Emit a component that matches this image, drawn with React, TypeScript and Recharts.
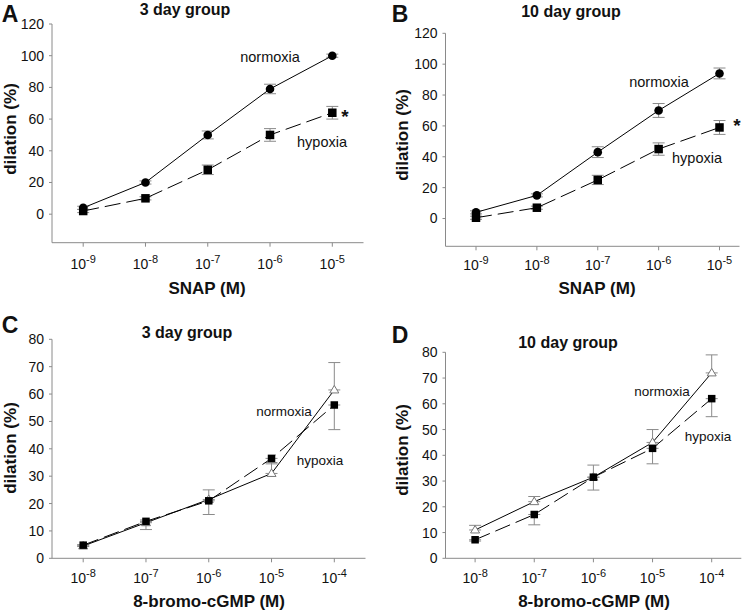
import { ErrorBar, Line, LineChart, XAxis, YAxis } from 'recharts';

const FONT = '"Liberation Sans", Arial, Helvetica, sans-serif';
const AXIS = '#8a8a8a';
const ERR = '#8a8a8a';

// dose exponents (10^x M)
const snapExponents = ['-9', '-8', '-7', '-6', '-5'];
const cgmpExponents = ['-8', '-7', '-6', '-5', '-4'];

const snapTicks = [0, 20, 40, 60, 80, 100, 120];
const cgmpTicks = [0, 10, 20, 30, 40, 50, 60, 70, 80];

// A: SNAP, 3 day group
const snap3Normoxia = [4, 20, 50, 79, 100];
const snap3NormoxiaSem = [1, 1, 2.5, 3, 1];
const snap3Hypoxia = [2, 10, 28, 50, 64];
const snap3HypoxiaSem = [1, 1, 3, 4, 4];

// B: SNAP, 10 day group
const snap10Normoxia = [4, 15, 43, 70, 94];
const snap10NormoxiaSem = [1, 1, 3.5, 4.5, 3.5];
const snap10Hypoxia = [0.5, 7, 25, 45, 59];
const snap10HypoxiaSem = [1, 1, 3, 4, 4.5];

// C: 8-bromo-cGMP, 3 day group (normoxia bars up, hypoxia bars down)
const cgmp3Normoxia = [4.5, 13, 21.5, 31, 61.5];
const cgmp3NormoxiaSem = [0.5, 1, 3.5, 4, 10];
const cgmp3Hypoxia = [4.8, 13.5, 21, 36.5, 56];
const cgmp3HypoxiaSem = [0.5, 3, 5, 2, 9];

// D: 8-bromo-cGMP, 10 day group
const cgmp10Normoxia = [11, 22, 31.5, 45, 72];
const cgmp10NormoxiaSem = [1.8, 2, 4.7, 5, 7];
const cgmp10Hypoxia = [7.2, 17, 31.5, 42.7, 62];
const cgmp10HypoxiaSem = [0.5, 4, 5, 6, 7];

function buildRows(
  doses: string[],
  norm: number[],
  normSem: number[],
  hyp: number[],
  hypSem: number[],
  oneSided: boolean
) {
  return doses.map((d, i) => ({
    dose: d,
    normoxia: norm[i],
    normoxiaErr: oneSided ? [0, normSem[i]] : normSem[i],
    hypoxia: hyp[i],
    hypoxiaErr: oneSided ? [hypSem[i], 0] : hypSem[i],
  }));
}

function PowerTick(props: any) {
  const { x, y, payload, shift } = props;
  return (
    <text x={x} y={y + shift} textAnchor="middle" fontFamily={FONT} fill="#111">
      <tspan fontSize={14}>10</tspan>
      <tspan fontSize={11} dy={-6}>
        {payload.value}
      </tspan>
    </text>
  );
}

const circleDot = (p: any) => (
  <circle key={`c-${p.index}`} cx={p.cx} cy={p.cy} r={4.3} fill="#000" stroke="none" />
);

const squareDot = (size: number) => (p: any) => (
  <rect
    key={`s-${p.index}`}
    x={p.cx - size / 2}
    y={p.cy - size / 2}
    width={size}
    height={size}
    fill="#000"
    stroke="none"
  />
);

const triangleDot = (p: any) => (
  <polygon
    key={`t-${p.index}`}
    points={`${p.cx},${p.cy - 4.5} ${p.cx - 4.5},${p.cy + 3} ${p.cx + 4.5},${p.cy + 3}`}
    fill="#fff"
    stroke="#777"
    strokeWidth={1}
  />
);

type PanelProps = {
  box: { left: number; top: number; width: number; height: number };
  plot: { left: number; right: number; top: number; bottom: number };
  rows: any[];
  domain: [number, number];
  ticks: number[];
  pad: { left: number; right: number };
  tickShift: number;
  normDot: any;
  hypDot: any;
};

function Panel({ box, plot, rows, domain, ticks, pad, tickShift, normDot, hypDot }: PanelProps) {
  const yWidth = plot.left - box.left;
  const xHeight = box.top + box.height - plot.bottom;
  return (
    <div style={{ position: 'absolute', left: box.left, top: box.top }}>
      <LineChart
        width={box.width}
        height={box.height}
        data={rows}
        margin={{ top: plot.top - box.top, right: box.left + box.width - plot.right, bottom: 0, left: 0 }}
      >
        <XAxis
          dataKey="dose"
          type="category"
          interval={0}
          padding={pad}
          height={xHeight}
          axisLine={{ stroke: AXIS }}
          tickLine={{ stroke: AXIS }}
          tickSize={4}
          tickMargin={0}
          tick={<PowerTick shift={tickShift} />}
        />
        <YAxis
          type="number"
          domain={domain}
          ticks={ticks}
          interval={0}
          allowDataOverflow
          width={yWidth}
          axisLine={{ stroke: AXIS }}
          tickLine={{ stroke: AXIS }}
          tickSize={3}
          tickMargin={5}
          tick={{ fontSize: 14, fill: '#111', fontFamily: FONT }}
        />
        <Line
          dataKey="normoxia"
          stroke="#000"
          strokeWidth={1}
          dot={normDot}
          activeDot={false}
          isAnimationActive={false}
        >
          <ErrorBar dataKey="normoxiaErr" direction="y" width={6} stroke={ERR} strokeWidth={1} />
        </Line>
        <Line
          dataKey="hypoxia"
          stroke="#000"
          strokeWidth={1}
          strokeDasharray="16 6"
          dot={hypDot}
          activeDot={false}
          isAnimationActive={false}
        >
          <ErrorBar dataKey="hypoxiaErr" direction="y" width={6} stroke={ERR} strokeWidth={1} />
        </Line>
      </LineChart>
    </div>
  );
}

function Txt({
  x,
  y,
  size,
  bold,
  rotate,
  children,
}: {
  x: number;
  y: number;
  size: number;
  bold?: boolean;
  rotate?: boolean;
  children: any;
}) {
  return (
    <div
      style={{
        position: 'absolute',
        left: x,
        top: y,
        transform: `translate(-50%, -50%)${rotate ? ' rotate(-90deg)' : ''}`,
        fontFamily: FONT,
        fontSize: size,
        fontWeight: bold ? 700 : 400,
        whiteSpace: 'nowrap',
        lineHeight: 1,
        color: '#111',
      }}
    >
      {children}
    </div>
  );
}

export default function App() {
  const rowsA = buildRows(snapExponents, snap3Normoxia, snap3NormoxiaSem, snap3Hypoxia, snap3HypoxiaSem, false);
  const rowsB = buildRows(snapExponents, snap10Normoxia, snap10NormoxiaSem, snap10Hypoxia, snap10HypoxiaSem, false);
  const rowsC = buildRows(cgmpExponents, cgmp3Normoxia, cgmp3NormoxiaSem, cgmp3Hypoxia, cgmp3HypoxiaSem, true);
  const rowsD = buildRows(cgmpExponents, cgmp10Normoxia, cgmp10NormoxiaSem, cgmp10Hypoxia, cgmp10HypoxiaSem, true);

  return (
    <div style={{ position: 'absolute', left: 0, top: 0, width: 750, height: 615, background: '#fff', overflow: 'hidden' }}>
      <Panel
        box={{ left: 0, top: 0, width: 375, height: 300 }}
        plot={{ left: 52, right: 363.5, top: 24, bottom: 242.7 }}
        rows={rowsA}
        domain={[-18, 120]}
        ticks={snapTicks}
        pad={{ left: 31.2, right: 31.2 }}
        tickShift={22}
        normDot={circleDot}
        hypDot={squareDot(8.5)}
      />
      <Panel
        box={{ left: 375, top: 0, width: 375, height: 300 }}
        plot={{ left: 445.5, right: 739.5, top: 33.3, bottom: 246.3 }}
        rows={rowsB}
        domain={[-18, 120]}
        ticks={snapTicks}
        pad={{ left: 30.5, right: 20 }}
        tickShift={20}
        normDot={circleDot}
        hypDot={squareDot(8.5)}
      />
      <Panel
        box={{ left: 0, top: 300, width: 375, height: 315 }}
        plot={{ left: 52, right: 365.5, top: 339.3, bottom: 558.3 }}
        rows={rowsC}
        domain={[0, 80]}
        ticks={cgmpTicks}
        pad={{ left: 31.2, right: 31.2 }}
        tickShift={21}
        normDot={triangleDot}
        hypDot={squareDot(7.5)}
      />
      <Panel
        box={{ left: 375, top: 300, width: 375, height: 315 }}
        plot={{ left: 445.5, right: 741.3, top: 352.3, bottom: 558.3 }}
        rows={rowsD}
        domain={[0, 80]}
        ticks={cgmpTicks}
        pad={{ left: 29.6, right: 29.6 }}
        tickShift={21}
        normDot={triangleDot}
        hypDot={squareDot(7.5)}
      />

      {/* panel letters */}
      <Txt x={10} y={14} size={23} bold>A</Txt>
      <Txt x={400} y={14} size={23} bold>B</Txt>
      <Txt x={10} y={325} size={23} bold>C</Txt>
      <Txt x={400} y={335} size={23} bold>D</Txt>

      {/* titles */}
      <Txt x={185} y={10} size={16} bold>3 day group</Txt>
      <Txt x={571} y={12} size={16} bold>10 day group</Txt>
      <Txt x={187} y={333} size={16} bold>3 day group</Txt>
      <Txt x={568} y={343} size={16} bold>10 day group</Txt>

      {/* y axis titles */}
      <Txt x={10} y={129} size={17} bold rotate>dilation (%)</Txt>
      <Txt x={402} y={135} size={17} bold rotate>dilation (%)</Txt>
      <Txt x={10} y={448} size={17} bold rotate>dilation (%)</Txt>
      <Txt x={402} y={450} size={17} bold rotate>dilation (%)</Txt>

      {/* x axis titles */}
      <Txt x={207} y={288} size={17} bold>SNAP (M)</Txt>
      <Txt x={597} y={288} size={17} bold>SNAP (M)</Txt>
      <Txt x={209} y={601} size={17} bold>8-bromo-cGMP (M)</Txt>
      <Txt x={594} y={601} size={17} bold>8-bromo-cGMP (M)</Txt>

      {/* series annotations */}
      <Txt x={270} y={57} size={14.5}>normoxia</Txt>
      <Txt x={322} y={142} size={14.5}>hypoxia</Txt>
      <Txt x={345} y={116} size={19} bold>*</Txt>
      <Txt x={659} y={82} size={14.5}>normoxia</Txt>
      <Txt x={697} y={158} size={14.5}>hypoxia</Txt>
      <Txt x={737} y={125} size={19} bold>*</Txt>
      <Txt x={284} y={412} size={13.5}>normoxia</Txt>
      <Txt x={320} y={461} size={13.5}>hypoxia</Txt>
      <Txt x={662} y={392} size={13.5}>normoxia</Txt>
      <Txt x={708} y={437} size={13.5}>hypoxia</Txt>
    </div>
  );
}
